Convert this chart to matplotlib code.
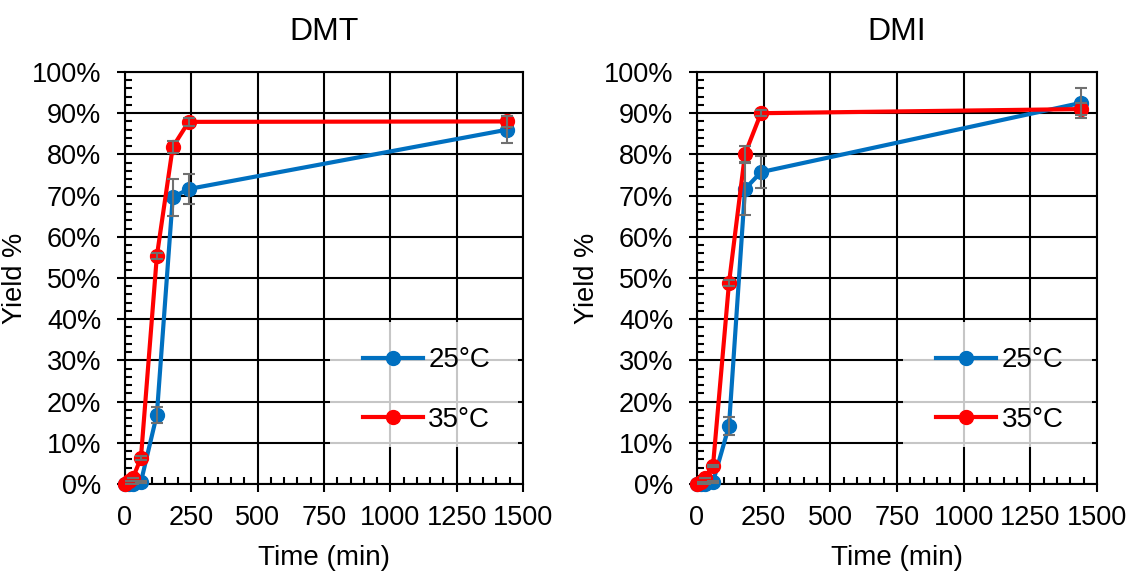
import matplotlib
matplotlib.use("Agg")
import matplotlib.pyplot as plt
from matplotlib.ticker import MultipleLocator, FuncFormatter
from matplotlib.patches import Rectangle

plt.rcParams['font.family'] = ['Liberation Sans', 'DejaVu Sans']

time_min = [0, 15, 30, 60, 120, 180, 240, 1440]

dmt_25 = [0, 0, 0.1, 0.5, 16.8, 69.6, 71.6, 86.0]
dmt_25_err = [0, 0, 0, 0.3, 2.0, 4.5, 3.6, 3.2]
dmt_35 = [0, 0.8, 1.5, 6.3, 55.3, 81.8, 87.9, 88.0]
dmt_35_err = [0, 0, 0, 0.5, 0.8, 1.5, 1.0, 1.3]

dmi_25 = [0, 0, 0.1, 0.5, 14.1, 71.6, 75.7, 92.5]
dmi_25_err = [0, 0, 0, 0.3, 2.2, 6.3, 3.8, 3.6]
dmi_35 = [0, 0.5, 1.4, 4.4, 48.8, 80.1, 90.0, 91.0]
dmi_35_err = [0, 0, 0, 0.3, 0.8, 2.0, 0.8, 1.5]

titles = ["DMT", "DMI"]
series_labels = ["25°C", "35°C"]
x_ticks = [0, 250, 500, 750, 1000, 1250, 1500]
y_ticks = [0, 10, 20, 30, 40, 50, 60, 70, 80, 90, 100]

blue = "#0070C0"
red = "#FF0000"
err_col = "#707070"

fig = plt.figure(figsize=(11.3, 5.75), dpi=100)
positions = [
    [125 / 1130, 1 - 484 / 575, (523 - 125) / 1130, (484 - 72) / 575],
    [697 / 1130, 1 - 484 / 575, (1097 - 697) / 1130, (484 - 72) / 575],
]
datasets = [
    (dmt_25, dmt_25_err, dmt_35, dmt_35_err),
    (dmi_25, dmi_25_err, dmi_35, dmi_35_err),
]

for pos, title, (v25, e25, v35, e35) in zip(positions, titles, datasets):
    ax = fig.add_axes(pos)
    ax.set_xlim(0, 1500)
    ax.set_ylim(0, 100)
    ax.set_xticks(x_ticks)
    ax.set_yticks(y_ticks)
    ax.xaxis.set_minor_locator(MultipleLocator(50))
    ax.yaxis.set_minor_locator(MultipleLocator(2))
    ax.yaxis.set_major_formatter(FuncFormatter(lambda v, p: f"{int(round(v))}%"))
    ax.grid(True, which="major", color="black", linewidth=1.5)
    ax.set_axisbelow(True)
    for sp in ax.spines.values():
        sp.set_color("black")
        sp.set_linewidth(1.5)
    ax.tick_params(axis="both", which="major", direction="out", length=6, width=1.5,
                   labelsize=19.5, color="black")
    ax.tick_params(axis="x", which="major", pad=9)
    ax.tick_params(axis="y", which="major", pad=11)
    ax.tick_params(axis="both", which="minor", direction="in", length=5, width=1.5,
                   color="black")

    # semi-transparent legend background (as in the original)
    ax.add_patch(Rectangle((0.515, 0.09), 0.472, 0.303, transform=ax.transAxes,
                           facecolor="white", alpha=0.78, edgecolor="none",
                           zorder=1.5))

    l1, = ax.plot(time_min, v25, color=blue, linewidth=3, marker="o",
                  markersize=10, label=series_labels[0], zorder=3, clip_on=False)
    l2, = ax.plot(time_min, v35, color=red, linewidth=3, marker="o",
                  markersize=10, label=series_labels[1], zorder=4, clip_on=False)
    ax.errorbar(time_min, v25, yerr=e25, fmt="none", ecolor=err_col,
                elinewidth=1.5, capsize=4.5, capthick=1.5, zorder=5)
    ax.errorbar(time_min, v35, yerr=e35, fmt="none", ecolor=err_col,
                elinewidth=1.5, capsize=4.5, capthick=1.5, zorder=5)

    ax.set_title(title, fontsize=23, pad=23)
    ax.set_xlabel("Time (min)", fontsize=20, labelpad=10)
    ax.set_ylabel("Yield %", fontsize=19.5)
    ax.yaxis.set_label_coords(-0.243, 0.5)

    leg = ax.legend(handles=[l1, l2], loc="center left",
                    bbox_to_anchor=(0.598, 0.228),
                    fontsize=20, frameon=False,
                    handlelength=2.15, handletextpad=0.2,
                    labelspacing=1.2, borderpad=0.0, borderaxespad=0.0)
    leg.set_zorder(6)

fig.savefig("out.png", dpi=100)
